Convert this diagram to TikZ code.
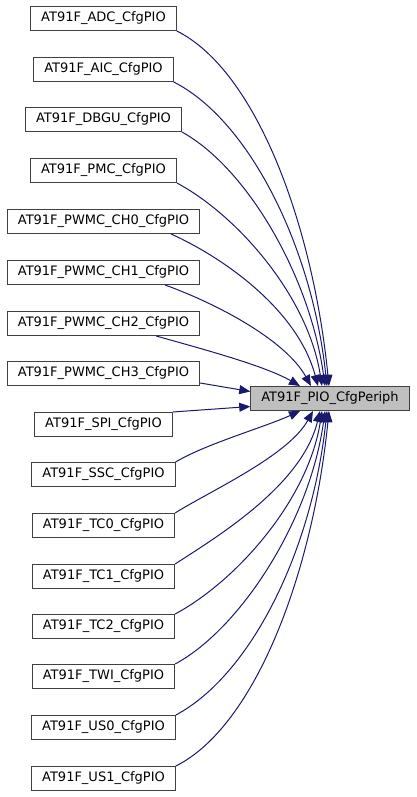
\documentclass[tikz,border=0pt]{standalone}
\usepackage{fontspec}
\setmainfont{DejaVu Sans}
\usepackage{tikz}
\usetikzlibrary{arrows.meta}
\definecolor{edgeblue}{HTML}{191970}
\definecolor{targetgray}{HTML}{BFBFBF}
\definecolor{boxline}{HTML}{404040}
\tikzset{
	callernode/.style={
			shape=rectangle,
			draw=boxline,
			line width=1pt,
			fill=white,
			minimum height=24pt,
			inner xsep=10.5pt,
			inner ysep=0pt,
			font=\fontsize{13}{15}\selectfont
		},
	targetnode/.style={
			callernode,
			fill=targetgray
		},
	calledge/.style={
			color=edgeblue,
			line width=1pt,
			-{Triangle[length=11pt,width=9pt]}
		}
}

\begin{document}
\begin{tikzpicture}[x=1pt, y=-1pt]
				\useasboundingbox[fill=white] (0,0) rectangle (416,797);

				\node[targetnode] (pio) at (330,398.5) {AT91F\_PIO\_CfgPeriph};

				\node[callernode] (adc)  at (103.5,18.5)  {AT91F\_ADC\_CfgPIO};
				\node[callernode] (aic)  at (103.5,69.5)  {AT91F\_AIC\_CfgPIO};
				\node[callernode] (dbgu) at (103.5,119.5) {AT91F\_DBGU\_CfgPIO};
				\node[callernode] (pmc)  at (103.5,170.5) {AT91F\_PMC\_CfgPIO};
				\node[callernode] (ch0)  at (103.5,221.5) {AT91F\_PWMC\_CH0\_CfgPIO};
				\node[callernode] (ch1)  at (103.5,272.5) {AT91F\_PWMC\_CH1\_CfgPIO};
				\node[callernode] (ch2)  at (103.5,323.5) {AT91F\_PWMC\_CH2\_CfgPIO};
				\node[callernode] (ch3)  at (103.5,373.5) {AT91F\_PWMC\_CH3\_CfgPIO};
				\node[callernode] (spi)  at (103.5,424.5) {AT91F\_SPI\_CfgPIO};
				\node[callernode] (ssc)  at (103.5,474.5) {AT91F\_SSC\_CfgPIO};
				\node[callernode] (tc0)  at (103.5,525.5) {AT91F\_TC0\_CfgPIO};
				\node[callernode] (tc1)  at (103.5,576.5) {AT91F\_TC1\_CfgPIO};
				\node[callernode] (tc2)  at (103.5,626.5) {AT91F\_TC2\_CfgPIO};
				\node[callernode] (twi)  at (103.5,676.5) {AT91F\_TWI\_CfgPIO};
				\node[callernode] (us0)  at (103.5,727.5) {AT91F\_US0\_CfgPIO};
				\node[callernode] (us1)  at (103.5,778.5) {AT91F\_US1\_CfgPIO};

				% callers above the target
				\draw[calledge] (adc.south east) .. controls +(80,40) and +(-16,-160) .. ([xshift=-1pt]pio.north);
				\draw[calledge] (aic.south east) .. controls +(75,38) and +(-15,-140) .. ([xshift=-3pt]pio.north);
				\draw[calledge] (dbgu.south east) .. controls +(65,36) and +(-15,-110) .. ([xshift=-5pt]pio.north);
				\draw[calledge] (pmc.south east) .. controls +(60,32) and +(-14,-90) .. ([xshift=-8pt]pio.north);
				\draw[calledge] ([xshift=-29pt]ch0.south east) .. controls +(55,25) and +(-20,-75) .. ([xshift=-12pt]pio.north);
				\draw[calledge] ([xshift=-35pt]ch1.south east) .. controls +(55,20) and +(-25,-45) .. ([xshift=-19pt]pio.north);
				\draw[calledge] ([xshift=-44pt]ch2.south east) .. controls +(50,14) and +(-35,-20) .. ([xshift=-30pt]pio.north);
				\draw[calledge] ([yshift=3pt]ch3.south east) -- ([yshift=7pt]pio.west);

				% callers below the target
				\draw[calledge] (spi.north east) -- ([yshift=-8pt]pio.west);
				\draw[calledge] (ssc.north east) .. controls +(30,-18) and +(-35,16) .. ([xshift=-30pt]pio.south);
				\draw[calledge] (tc0.north east) .. controls +(35,-22) and +(-25,45) .. ([xshift=-17pt]pio.south);
				\draw[calledge] (tc1.north east) .. controls +(40,-26) and +(-18,75) .. ([xshift=-10pt]pio.south);
				\draw[calledge] (tc2.north east) .. controls +(60,-32) and +(-14,90) .. ([xshift=-8pt]pio.south);
				\draw[calledge] (twi.north east) .. controls +(65,-35) and +(-15,110) .. ([xshift=-5pt]pio.south);
				\draw[calledge] (us0.north east) .. controls +(75,-40) and +(-15,140) .. ([xshift=-3pt]pio.south);
				\draw[calledge] (us1.north east) .. controls +(80,-40) and +(-16,160) .. ([xshift=-1pt]pio.south);

			\end{tikzpicture}
\end{document}
